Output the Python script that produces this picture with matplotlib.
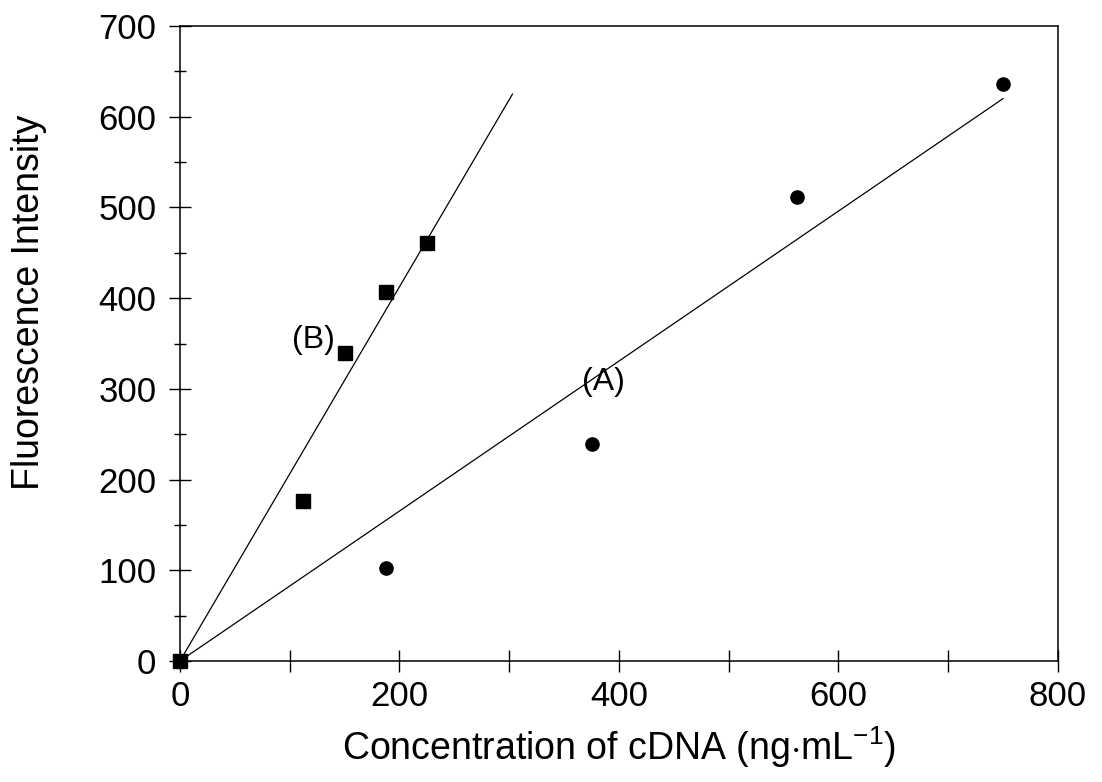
import numpy as np
import matplotlib
matplotlib.use('Agg')
import matplotlib.pyplot as plt
from matplotlib.ticker import MultipleLocator

plt.rcParams['font.family'] = ['Liberation Sans', 'DejaVu Sans']
plt.rcParams['mathtext.fontset'] = 'custom'
plt.rcParams['mathtext.rm'] = 'Liberation Sans'
plt.rcParams['mathtext.it'] = 'Liberation Sans'

# series A (circles) and B (squares)
conc_a = [187.5, 375, 562.5, 750]
fluo_a = [102, 239, 511, 636]
conc_b = [0, 112.5, 150, 187.5, 225]
fluo_b = [0, 176, 340, 407, 461]

# fitted lines, end points
fit_a_x = [0, 750]
fit_a_y = [0, 620]
fit_b_x = [0, 303]
fit_b_y = [0, 625]

fig = plt.figure(figsize=(11.02, 7.82), dpi=100)
ax = fig.add_axes([0.1633, 0.1547, 0.7967, 0.812])

ax.plot(fit_a_x, fit_a_y, color='black', lw=0.9)
ax.plot(fit_b_x, fit_b_y, color='black', lw=0.9)
ax.plot(conc_a, fluo_a, 'o', color='black', ms=9.5, clip_on=False)
ax.plot(conc_b, fluo_b, 's', color='black', ms=9.5, clip_on=False)

ax.text(122, 354, '(B)', fontsize=23, ha='center', va='center')
ax.text(386, 308, '(A)', fontsize=23, ha='center', va='center')

ax.set_xlim(0, 800)
ax.set_ylim(0, 700)
ax.xaxis.set_major_locator(MultipleLocator(200))
ax.xaxis.set_minor_locator(MultipleLocator(100))
ax.yaxis.set_major_locator(MultipleLocator(100))
ax.yaxis.set_minor_locator(MultipleLocator(50))
ax.tick_params(which='major', direction='inout', length=16, width=1, labelsize=25)
ax.tick_params(axis='x', which='major', pad=6)
ax.tick_params(axis='y', which='major', pad=9)
ax.tick_params(which='minor', direction='inout', length=8, width=1)
ax.tick_params(axis='x', which='minor', length=16)

for s in ax.spines.values():
    s.set_linewidth(1.1)

ax.set_xlabel(r'Concentration of cDNA (ng$\cdot$mL$^{\mathregular{-1}}$)',
              fontsize=27, labelpad=8)
ax.set_ylabel('Fluorescence Intensity', fontsize=27)
ax.yaxis.set_label_coords(-0.152, 0.565)

fig.savefig('out.png', dpi=100)
